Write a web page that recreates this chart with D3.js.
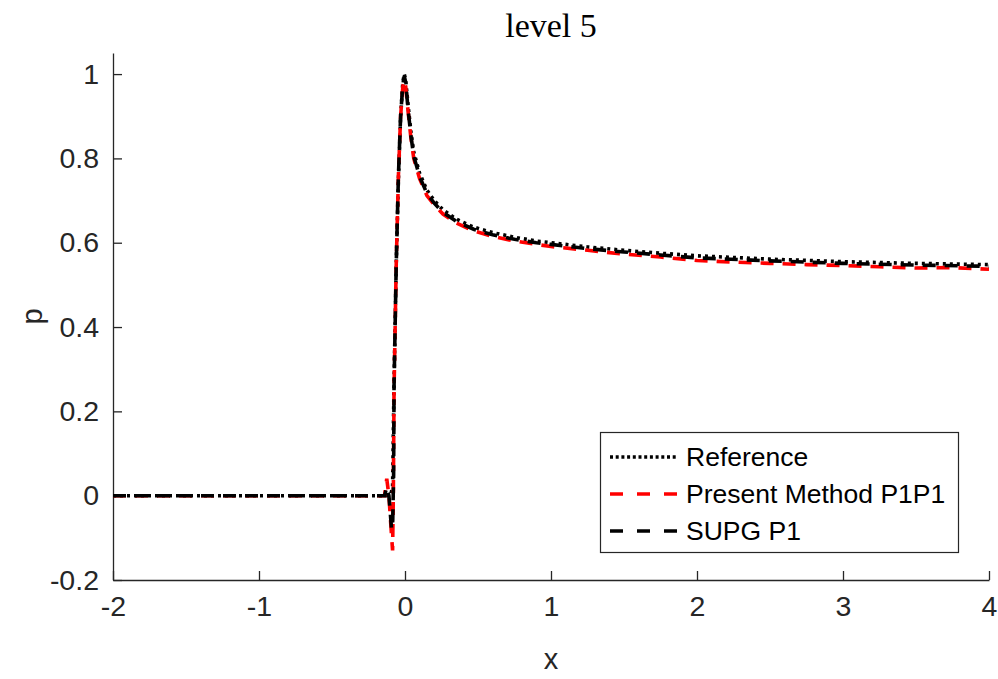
<!DOCTYPE html>
<html><head><meta charset="utf-8">
<script src="https://cdn.jsdelivr.net/npm/d3@7"></script>
<style>body{margin:0;background:#fff}svg{display:block}</style>
</head><body><svg id="c" width="998" height="679"></svg>
<script>
// ---- data ----
const xTicks = [-2, -1, 0, 1, 2, 3, 4];
const xTickLabels = ["-2", "-1", "0", "1", "2", "3", "4"];
const yTicks = [-0.2, 0, 0.2, 0.4, 0.6, 0.8, 1];
const yTickLabels = ["-0.2", "0", "0.2", "0.4", "0.6", "0.8", "1"];
const seriesNames = ["Reference", "Present Method P1P1", "SUPG P1"];

const refX = [-2, -0.5, -0.1, -0.085, -0.075, -0.06, -0.045, -0.03, -0.015, -0.005, 0.005, 0.02, 0.04, 0.06, 0.1, 0.15, 0.2, 0.26, 0.35, 0.47, 0.6, 0.75, 0.9, 1.0, 1.25, 1.5, 1.75, 2, 2.5, 3, 3.5, 4];
const refP = [0, 0, 0, 0.02, 0.27, 0.55, 0.75, 0.9, 0.98, 1.0, 0.985, 0.93, 0.865, 0.815, 0.765, 0.725, 0.70, 0.678, 0.656, 0.637, 0.624, 0.613, 0.604, 0.600, 0.590, 0.582, 0.575, 0.569, 0.561, 0.555, 0.551, 0.548];

const pmX = [-2, -0.5, -0.14, -0.125, -0.11, -0.095, -0.085, -0.08, -0.075, -0.06, -0.045, -0.03, -0.015, -0.005, 0.005, 0.02, 0.04, 0.06, 0.1, 0.15, 0.2, 0.26, 0.35, 0.47, 0.6, 0.75, 0.9, 1.0, 1.25, 1.5, 1.75, 2, 2.25, 2.5, 2.75, 3, 3.25, 3.5, 3.75, 4];
const pmP = [0, 0, 0, 0.04, 0.0, -0.08, -0.13, 0.0, 0.25, 0.55, 0.76, 0.9, 0.97, 0.985, 0.97, 0.915, 0.85, 0.80, 0.752, 0.712, 0.69, 0.668, 0.647, 0.628, 0.615, 0.604, 0.596, 0.591, 0.582, 0.573, 0.566, 0.558, 0.554, 0.551, 0.548, 0.546, 0.543, 0.540, 0.541, 0.537];

const supgX = [-2, -0.5, -0.14, -0.125, -0.11, -0.092, -0.084, -0.078, -0.075, -0.06, -0.045, -0.03, -0.015, -0.005, 0.005, 0.02, 0.04, 0.06, 0.1, 0.15, 0.2, 0.26, 0.35, 0.47, 0.6, 0.75, 0.9, 1.0, 1.25, 1.5, 1.75, 2, 2.5, 3, 3.5, 4];
const supgP = [0, 0, 0, 0.02, 0.0, -0.08, -0.06, 0.05, 0.26, 0.55, 0.76, 0.9, 0.975, 0.995, 0.98, 0.92, 0.855, 0.805, 0.757, 0.717, 0.694, 0.672, 0.651, 0.632, 0.619, 0.608, 0.600, 0.596, 0.586, 0.578, 0.571, 0.564, 0.557, 0.551, 0.547, 0.544];

// ---- layout ----
const svg = d3.select("#c");
const L = 113, R = 989, T = 53, B = 580;
const x = d3.scaleLinear().domain([-2, 4]).range([L, R]);
const y = d3.scaleLinear().domain([-0.2, 1.05]).range([B, T]);
const axisCol = "#262626";
const font = "'Liberation Sans', Arial, Helvetica, sans-serif";

// axes
const gx = svg.append("g").attr("transform", `translate(0,${B})`)
  .call(d3.axisBottom(x).tickValues(xTicks).tickSizeInner(-9).tickSizeOuter(0).tickPadding(15).tickFormat((d, i) => xTickLabels[i]));
const gy = svg.append("g").attr("transform", `translate(${L},0)`)
  .call(d3.axisLeft(y).tickValues(yTicks).tickSizeInner(-9).tickSizeOuter(0).tickPadding(14).tickFormat((d, i) => yTickLabels[i]));
[gx, gy].forEach(g => {
  g.select(".domain").attr("stroke", axisCol).attr("stroke-width", 1.3);
  g.selectAll(".tick line").attr("stroke", axisCol).attr("stroke-width", 1.3);
  g.selectAll(".tick text").attr("fill", axisCol).style("font-family", font).style("font-size", "28.5px");
});
gx.selectAll(".tick text").attr("dy", "0.72em");

// labels
svg.append("text").attr("x", (L + R) / 2).attr("y", 669).attr("text-anchor", "middle")
  .style("font-family", font).style("font-size", "29px").attr("fill", axisCol).text("x");
svg.append("text").attr("transform", `translate(42,${(T + B) / 2}) rotate(-90)`).attr("text-anchor", "middle")
  .style("font-family", font).style("font-size", "29px").attr("fill", axisCol).text("p");
svg.append("text").attr("x", (L + R) / 2).attr("y", 37).attr("text-anchor", "middle")
  .style("font-family", "'Liberation Serif', 'DejaVu Serif', serif").style("font-size", "34px").attr("fill", "#000").text("level 5");

// lines
const line = d3.line().x(d => x(d[0])).y(d => y(d[1]));
const styles = [
  { col: "#000", dash: "3,4" },
  { col: "#ff0000", dash: "13,9" },
  { col: "#000", dash: "13,9" }
];
const data = [
  refX.map((v, i) => [v, refP[i]]),
  pmX.map((v, i) => [v, pmP[i]]),
  supgX.map((v, i) => [v, supgP[i]])
];
data.forEach((d, i) => {
  svg.append("path").datum(d).attr("d", line).attr("fill", "none")
    .attr("stroke", styles[i].col).attr("stroke-width", 3.6)
    .attr("stroke-dasharray", styles[i].dash);
});

// legend
const lg = svg.append("g");
lg.append("rect").attr("x", 600.5).attr("y", 432.5).attr("width", 358).attr("height", 120)
  .attr("fill", "#fff").attr("stroke", axisCol).attr("stroke-width", 1.2);
seriesNames.forEach((n, i) => {
  const yy = 457 + i * 37;
  lg.append("line").attr("x1", 610).attr("x2", 677).attr("y1", yy).attr("y2", yy)
    .attr("stroke", styles[i].col).attr("stroke-width", 3.6)
    .attr("stroke-dasharray", i === 0 ? "3,2.7" : "13,14");
  lg.append("text").attr("x", 686).attr("y", yy + 9).style("font-family", font).style("font-size", "26.5px")
    .attr("fill", "#000").text(n);
});
</script></body></html>
